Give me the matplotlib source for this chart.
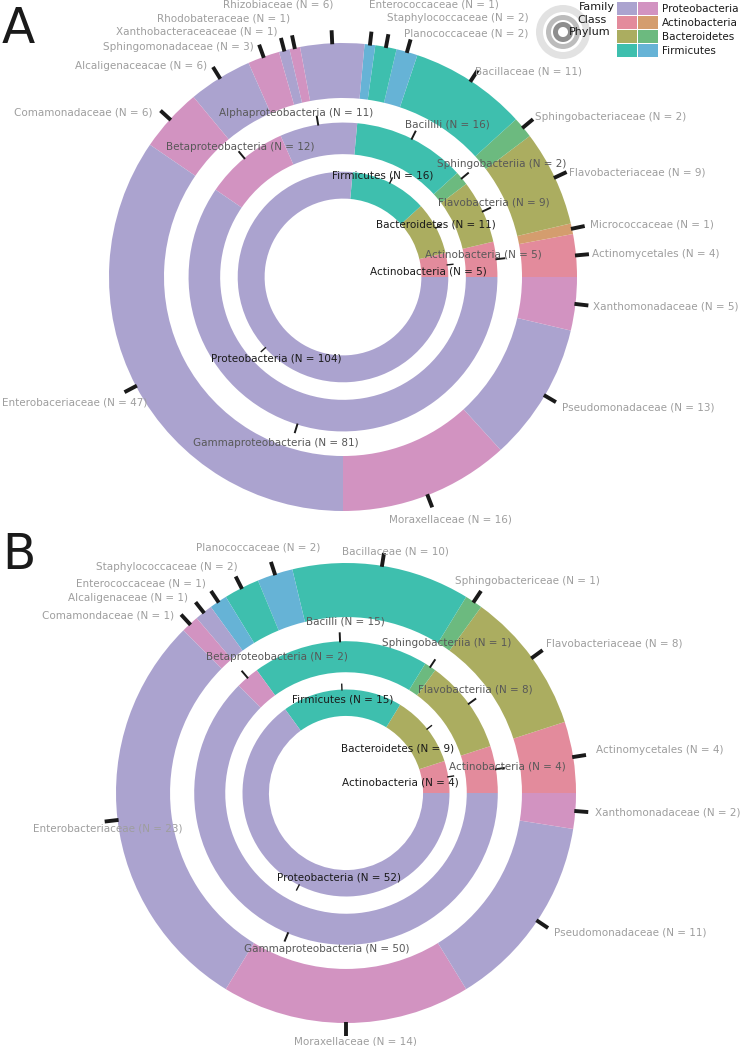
import numpy as np
import matplotlib.pyplot as plt
from matplotlib.patches import Rectangle

W, H = 741, 1046

# ---- panel A counts ----
a_phylum = ['Actinobacteria', 'Bacteroidetes', 'Firmicutes', 'Proteobacteria']
a_phylum_n = [5, 11, 16, 104]

a_class = ['Actinobacteria', 'Flavobacteria', 'Sphingobacteriia', 'Bacililli',
           'Alphaproteobacteria', 'Betaproteobacteria', 'Gammaproteobacteria']
a_class_n = [5, 9, 2, 16, 11, 12, 81]
a_class_phylum = ['Actinobacteria', 'Bacteroidetes', 'Bacteroidetes', 'Firmicutes',
                  'Proteobacteria', 'Proteobacteria', 'Proteobacteria']

a_family = ['Actinomycetales', 'Micrococcaceae', 'Flavobacteriaceae', 'Sphingobacteriaceae',
            'Bacillaceae', 'Planococcaceae', 'Staphylococcaceae', 'Enterococcaceae',
            'Rhizobiaceae', 'Rhodobateraceae', 'Xanthobacteraceaceae', 'Sphingomonadaceae',
            'Alcaligenaceacae', 'Comamonadaceae', 'Enterobaceriaceae', 'Moraxellaceae',
            'Pseudomonadaceae', 'Xanthomonadaceae']
a_family_n = [4, 1, 9, 2, 11, 2, 2, 1, 6, 1, 1, 3, 6, 6, 47, 16, 13, 5]
a_family_phylum = ['Actinobacteria'] * 2 + ['Bacteroidetes'] * 2 + ['Firmicutes'] * 4 + ['Proteobacteria'] * 10

# ---- panel B counts ----
b_phylum = ['Actinobacteria', 'Bacteroidetes', 'Firmicutes', 'Proteobacteria']
b_phylum_n = [4, 9, 15, 52]

b_class = ['Actinobacteria', 'Flavobacteriia', 'Sphingobacteriia', 'Bacilli',
           'Betaproteobacteria', 'Gammaproteobacteria']
b_class_n = [4, 8, 1, 15, 2, 50]
b_class_phylum = ['Actinobacteria', 'Bacteroidetes', 'Bacteroidetes', 'Firmicutes',
                  'Proteobacteria', 'Proteobacteria']

b_family = ['Actinomycetales', 'Flavobacteriaceae', 'Sphingobactericeae', 'Bacillaceae',
            'Planococcaceae', 'Staphylococcaceae', 'Enterococcaceae', 'Alcaligenaceae',
            'Comamondaceae', 'Enterobacteriaceae', 'Moraxellaceae', 'Pseudomonadaceae',
            'Xanthomonadaceae']
b_family_n = [4, 8, 1, 10, 2, 2, 1, 1, 1, 23, 14, 11, 2]
b_family_phylum = ['Actinobacteria'] + ['Bacteroidetes'] * 2 + ['Firmicutes'] * 4 + ['Proteobacteria'] * 6

# ---- style ----
PALETTE = {'Proteobacteria': ('#aba3cf', '#d293c1'),
           'Actinobacteria': ('#e38b9c', '#d49d6e'),
           'Bacteroidetes': ('#abad60', '#6cba7f'),
           'Firmicutes': ('#3ebfae', '#66b3d6')}
SECOND_SHADE_CLASS = {'Betaproteobacteria', 'Sphingobacteriia'}

# label nudges, image pixels (dx right, dy down) from the tick end
NUDGE_A = {
    'family': {'Actinomycetales': (67, 0), 'Micrococcaceae': (67, -2), 'Flavobacteriaceae': (71, 0),
               'Sphingobacteriaceae': (78, -2), 'Bacillaceae': (51, 1), 'Planococcaceae': (56, -6),
               'Staphylococcaceae': (69, -16), 'Enterococcaceae': (62, -27), 'Rhizobiaceae': (-53, -26),
               'Rhodobateraceae': (-68, -17), 'Xanthobacteraceaceae': (-84, -6),
               'Sphingomonadaceae': (-81, 2), 'Alcaligenaceacae': (-72, -1), 'Comamonadaceae': (-77, 2),
               'Enterobaceriaceae': (-50, 10), 'Moraxellaceae': (18, 12), 'Pseudomonadaceae': (82, 5),
               'Xanthomonadaceae': (77, 1)},
    'class': {'Actinobacteria': (-22, -4), 'Flavobacteria': (3, -5), 'Sphingobacteriia': (33, -9),
              'Bacililli': (32, -6), 'Alphaproteobacteria': (-21, -3), 'Betaproteobacteria': (2, -4),
              'Gammaproteobacteria': (-19, 10)},
    'phylum': {'Actinobacteria': (-25, 7), 'Bacteroidetes': (-6, -1), 'Firmicutes': (-10, -2),
               'Proteobacteria': (16, 7)},
}
NUDGE_B = {
    'family': {'Actinomycetales': (74, -5), 'Flavobacteriaceae': (72, -7), 'Sphingobactericeae': (46, -10),
               'Bacillaceae': (11, -1), 'Planococcaceae': (-13, -14), 'Staphylococcaceae': (-69, -9),
               'Enterococcaceae': (-70, -7), 'Alcaligenaceae': (-68, -4), 'Comamondaceae': (-73, 1),
               'Enterobacteriaceae': (3, 7), 'Moraxellaceae': (9, 5), 'Pseudomonadaceae': (82, 4),
               'Xanthomonadaceae': (79, 0)},
    'class': {'Actinobacteria': (3, -1), 'Flavobacteriia': (-1, -9), 'Sphingobacteriia': (11, -16),
              'Bacilli': (6, -11), 'Betaproteobacteria': (35, -14), 'Gammaproteobacteria': (42, 7)},
    'phylum': {'Actinobacteria': (-54, 7), 'Bacteroidetes': (-34, 23), 'Firmicutes': (1, 16),
               'Proteobacteria': (43, -13)},
}

# ring radii as a fraction of the outer radius
RINGS = {'family': (1.0, 0.235), 'class': (0.66, 0.135), 'phylum': (0.45, 0.115)}
TICKS = {'family': (13, 2.8), 'class': (9, 1.4), 'phylum': (6, 1.0)}
TEXT_COLOR = {'family': '#9e9e9e', 'class': '#585858', 'phylum': '#1a1a1a'}
FS = 7.5


def family_colors(groups):
    out, seen = [], {}
    for g in groups:
        k = seen.get(g, 0)
        out.append(PALETTE[g][k % 2])
        seen[g] = k + 1
    return out


def class_colors(names, groups):
    return [PALETTE[g][1 if n in SECOND_SHADE_CLASS else 0] for n, g in zip(names, groups)]


def draw_ring(ax, cx, cy, R, level, names, counts, colors, nudge):
    frac_out, frac_w = RINGS[level]
    r_out = R * frac_out
    ax.pie(counts, radius=r_out, center=(cx, cy), startangle=0, counterclock=True,
           colors=colors, wedgeprops=dict(width=R * frac_w, linewidth=0), frame=True)
    counts = np.asarray(counts, dtype=float)
    mids = 2 * np.pi * (np.cumsum(counts) - counts / 2) / counts.sum()
    tlen, tlw = TICKS[level]
    for name, n, th in zip(names, counts, mids):
        c, s = np.cos(th), np.sin(th)
        x0, y0 = cx + (r_out - 1) * c, cy + (r_out - 1) * s
        x1, y1 = cx + (r_out + tlen) * c, cy + (r_out + tlen) * s
        ax.plot([x0, x1], [y0, y1], color='#1a1a1a', lw=tlw, solid_capstyle='butt', zorder=3)
        dx, dy = nudge[level].get(name, (0, 0))
        ax.text(x1 + dx, y1 - dy, f'{name} (N = {int(n)})', ha='center', va='center',
                fontsize=FS, color=TEXT_COLOR[level], zorder=4)


fig = plt.figure(figsize=(W / 100, H / 100), dpi=100)
ax = fig.add_axes([0, 0, 1, 1])

panels = [
    (343, H - 277, 234, NUDGE_A, (a_family, a_family_n, a_family_phylum),
     (a_class, a_class_n, a_class_phylum), (a_phylum, a_phylum_n)),
    (346, H - 793, 230, NUDGE_B, (b_family, b_family_n, b_family_phylum),
     (b_class, b_class_n, b_class_phylum), (b_phylum, b_phylum_n)),
]
for cx, cy, R, nudge, fam, cls, phy in panels:
    draw_ring(ax, cx, cy, R, 'family', fam[0], fam[1], family_colors(fam[2]), nudge)
    draw_ring(ax, cx, cy, R, 'class', cls[0], cls[1], class_colors(cls[0], cls[2]), nudge)
    draw_ring(ax, cx, cy, R, 'phylum', phy[0], phy[1], [PALETTE[p][0] for p in phy[0]], nudge)

ax.text(2, H - 5, 'A', fontsize=35, ha='left', va='top', color='#1a1a1a')
ax.text(2, H - 531, 'B', fontsize=35, ha='left', va='top', color='#1a1a1a')

# legend: ring icon
icx, icy = 563, H - 32
for (ro, w), col in zip([(27, 7), (17, 5), (10, 5)], ['#e2e2e2', '#bcbcbc', '#8e8e8e']):
    ax.pie([1], radius=ro, center=(icx, icy), colors=[col],
           wedgeprops=dict(width=w, linewidth=0), frame=True)
for txt, (tx, ty) in zip(['Family', 'Class', 'Phylum'], [(597, 7), (592, 20), (590, 32)]):
    ax.text(tx, H - ty, txt, fontsize=8, ha='center', va='center', color='#1a1a1a', zorder=5)

# legend: colour swatches
for i, p in enumerate(['Proteobacteria', 'Actinobacteria', 'Bacteroidetes', 'Firmicutes']):
    top = 2 + 14 * i
    for j, col in enumerate(PALETTE[p]):
        ax.add_patch(Rectangle((617 + 21 * j, H - top - 13), 20, 13, facecolor=col, linewidth=0))
    ax.text(662, H - top - 6.5, p, fontsize=FS, ha='left', va='center', color='#1a1a1a')

ax.set_xlim(0, W)
ax.set_ylim(0, H)
ax.set_aspect('equal')
ax.axis('off')
fig.savefig('out.png', dpi=100)
